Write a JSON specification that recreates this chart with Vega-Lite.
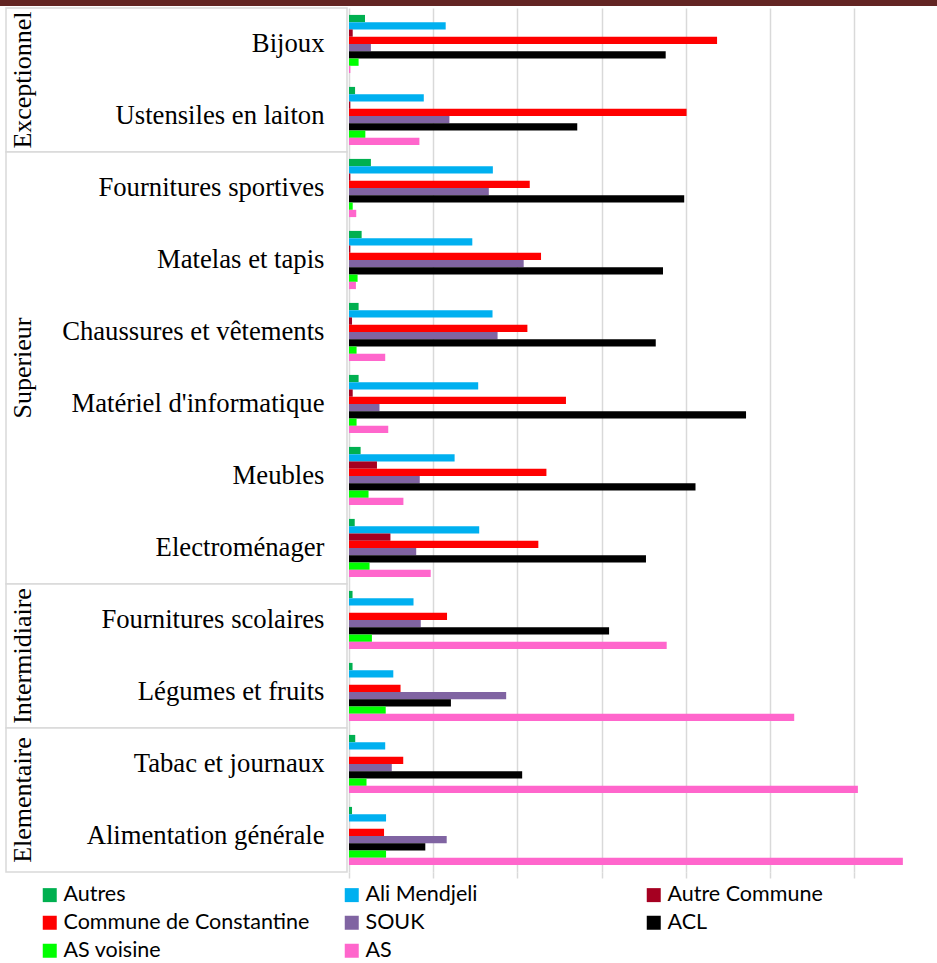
{
  "$schema": "https://vega.github.io/schema/vega-lite/v6.json",
  "padding": {"left": 0, "top": 0, "right": 0, "bottom": 14},
  "background": "white",
  "config": {"view": {"stroke": null}, "font": "Liberation Serif"},
  "datasets": {
    "groups": [
      {"group": "Exceptionnel", "first": "Bijoux", "last": "Ustensiles en laiton", "mid": "Bijoux"},
      {"group": "Superieur", "first": "Fournitures sportives", "last": "Electroménager", "mid": "Chaussures et vêtements"},
      {"group": "Intermidiaire", "first": "Fournitures scolaires", "last": "Légumes et fruits", "mid": "Fournitures scolaires"},
      {"group": "Elementaire", "first": "Tabac et journaux", "last": "Alimentation générale", "mid": "Tabac et journaux"}
    ],
    "bars": [
      {"c": "Bijoux", "s": "Autres", "v": 0.95},
      {"c": "Bijoux", "s": "Ali Mendjeli", "v": 5.74},
      {"c": "Bijoux", "s": "Autre Commune", "v": 0.22},
      {"c": "Bijoux", "s": "Commune de Constantine", "v": 21.85},
      {"c": "Bijoux", "s": "SOUK", "v": 1.3},
      {"c": "Bijoux", "s": "ACL", "v": 18.8},
      {"c": "Bijoux", "s": "AS voisine", "v": 0.57},
      {"c": "Bijoux", "s": "AS", "v": 0.08},
      {"c": "Ustensiles en laiton", "s": "Autres", "v": 0.36},
      {"c": "Ustensiles en laiton", "s": "Ali Mendjeli", "v": 4.44},
      {"c": "Ustensiles en laiton", "s": "Autre Commune", "v": 0.08},
      {"c": "Ustensiles en laiton", "s": "Commune de Constantine", "v": 20.04},
      {"c": "Ustensiles en laiton", "s": "SOUK", "v": 5.96},
      {"c": "Ustensiles en laiton", "s": "ACL", "v": 13.55},
      {"c": "Ustensiles en laiton", "s": "AS voisine", "v": 0.97},
      {"c": "Ustensiles en laiton", "s": "AS", "v": 4.18},
      {"c": "Fournitures sportives", "s": "Autres", "v": 1.3},
      {"c": "Fournitures sportives", "s": "Ali Mendjeli", "v": 8.54},
      {"c": "Fournitures sportives", "s": "Autre Commune", "v": 0.08},
      {"c": "Fournitures sportives", "s": "Commune de Constantine", "v": 10.73},
      {"c": "Fournitures sportives", "s": "SOUK", "v": 8.3},
      {"c": "Fournitures sportives", "s": "ACL", "v": 19.9},
      {"c": "Fournitures sportives", "s": "AS voisine", "v": 0.22},
      {"c": "Fournitures sportives", "s": "AS", "v": 0.43},
      {"c": "Matelas et tapis", "s": "Autres", "v": 0.75},
      {"c": "Matelas et tapis", "s": "Ali Mendjeli", "v": 7.32},
      {"c": "Matelas et tapis", "s": "Autre Commune", "v": 0.08},
      {"c": "Matelas et tapis", "s": "Commune de Constantine", "v": 11.4},
      {"c": "Matelas et tapis", "s": "SOUK", "v": 10.37},
      {"c": "Matelas et tapis", "s": "ACL", "v": 18.64},
      {"c": "Matelas et tapis", "s": "AS voisine", "v": 0.51},
      {"c": "Matelas et tapis", "s": "AS", "v": 0.41},
      {"c": "Chaussures et vêtements", "s": "Autres", "v": 0.57},
      {"c": "Chaussures et vêtements", "s": "Ali Mendjeli", "v": 8.52},
      {"c": "Chaussures et vêtements", "s": "Autre Commune", "v": 0.18},
      {"c": "Chaussures et vêtements", "s": "Commune de Constantine", "v": 10.59},
      {"c": "Chaussures et vêtements", "s": "SOUK", "v": 8.82},
      {"c": "Chaussures et vêtements", "s": "ACL", "v": 18.21},
      {"c": "Chaussures et vêtements", "s": "AS voisine", "v": 0.45},
      {"c": "Chaussures et vêtements", "s": "AS", "v": 2.15},
      {"c": "Matériel d'informatique", "s": "Autres", "v": 0.57},
      {"c": "Matériel d'informatique", "s": "Ali Mendjeli", "v": 7.67},
      {"c": "Matériel d'informatique", "s": "Autre Commune", "v": 0.22},
      {"c": "Matériel d'informatique", "s": "Commune de Constantine", "v": 12.88},
      {"c": "Matériel d'informatique", "s": "SOUK", "v": 1.81},
      {"c": "Matériel d'informatique", "s": "ACL", "v": 23.57},
      {"c": "Matériel d'informatique", "s": "AS voisine", "v": 0.45},
      {"c": "Matériel d'informatique", "s": "AS", "v": 2.33},
      {"c": "Meubles", "s": "Autres", "v": 0.69},
      {"c": "Meubles", "s": "Ali Mendjeli", "v": 6.27},
      {"c": "Meubles", "s": "Autre Commune", "v": 1.66},
      {"c": "Meubles", "s": "Commune de Constantine", "v": 11.72},
      {"c": "Meubles", "s": "SOUK", "v": 4.2},
      {"c": "Meubles", "s": "ACL", "v": 20.57},
      {"c": "Meubles", "s": "AS voisine", "v": 1.16},
      {"c": "Meubles", "s": "AS", "v": 3.23},
      {"c": "Electroménager", "s": "Autres", "v": 0.34},
      {"c": "Electroménager", "s": "Ali Mendjeli", "v": 7.73},
      {"c": "Electroménager", "s": "Autre Commune", "v": 2.46},
      {"c": "Electroménager", "s": "Commune de Constantine", "v": 11.24},
      {"c": "Electroménager", "s": "SOUK", "v": 3.99},
      {"c": "Electroménager", "s": "ACL", "v": 17.63},
      {"c": "Electroménager", "s": "AS voisine", "v": 1.22},
      {"c": "Electroménager", "s": "AS", "v": 4.85},
      {"c": "Fournitures scolaires", "s": "Autres", "v": 0.21},
      {"c": "Fournitures scolaires", "s": "Ali Mendjeli", "v": 3.83},
      {"c": "Fournitures scolaires", "s": "Autre Commune", "v": 0},
      {"c": "Fournitures scolaires", "s": "Commune de Constantine", "v": 5.82},
      {"c": "Fournitures scolaires", "s": "SOUK", "v": 4.26},
      {"c": "Fournitures scolaires", "s": "ACL", "v": 15.44},
      {"c": "Fournitures scolaires", "s": "AS voisine", "v": 1.36},
      {"c": "Fournitures scolaires", "s": "AS", "v": 18.86},
      {"c": "Légumes et fruits", "s": "Autres", "v": 0.21},
      {"c": "Légumes et fruits", "s": "Ali Mendjeli", "v": 2.63},
      {"c": "Légumes et fruits", "s": "Autre Commune", "v": 0},
      {"c": "Légumes et fruits", "s": "Commune de Constantine", "v": 3.06},
      {"c": "Légumes et fruits", "s": "SOUK", "v": 9.33},
      {"c": "Légumes et fruits", "s": "ACL", "v": 6.05},
      {"c": "Légumes et fruits", "s": "AS voisine", "v": 2.18},
      {"c": "Légumes et fruits", "s": "AS", "v": 26.43},
      {"c": "Tabac et journaux", "s": "Autres", "v": 0.37},
      {"c": "Tabac et journaux", "s": "Ali Mendjeli", "v": 2.15},
      {"c": "Tabac et journaux", "s": "Autre Commune", "v": 0},
      {"c": "Tabac et journaux", "s": "Commune de Constantine", "v": 3.22},
      {"c": "Tabac et journaux", "s": "SOUK", "v": 2.54},
      {"c": "Tabac et journaux", "s": "ACL", "v": 10.28},
      {"c": "Tabac et journaux", "s": "AS voisine", "v": 1.04},
      {"c": "Tabac et journaux", "s": "AS", "v": 30.21},
      {"c": "Alimentation générale", "s": "Autres", "v": 0.18},
      {"c": "Alimentation générale", "s": "Ali Mendjeli", "v": 2.2},
      {"c": "Alimentation générale", "s": "Autre Commune", "v": 0},
      {"c": "Alimentation générale", "s": "Commune de Constantine", "v": 2.08},
      {"c": "Alimentation générale", "s": "SOUK", "v": 5.8},
      {"c": "Alimentation générale", "s": "ACL", "v": 4.53},
      {"c": "Alimentation générale", "s": "AS voisine", "v": 2.2},
      {"c": "Alimentation générale", "s": "AS", "v": 32.88}
    ]
  },
  "spacing": 1,
  "center": true,
  "vconcat": [
    {
      "width": 937,
      "height": 6,
      "data": {"values": [{"k": 1}]},
      "mark": {"type": "rect", "color": "#632523"},
      "encoding": {}
    },
    {
      "spacing": 0,
      "hconcat": [
        {
          "width": 341,
          "height": 864,
          "data": {"name": "groups"},
          "layer": [
            {
              "mark": {"type": "rect", "fill": "white", "stroke": "#d9d9d9", "strokeWidth": 1.5},
              "encoding": {
                "y": {
                  "field": "first", "type": "nominal", "bandPosition": 0,
                  "scale": {"domain": ["Bijoux", "Ustensiles en laiton", "Fournitures sportives", "Matelas et tapis", "Chaussures et vêtements", "Matériel d'informatique", "Meubles", "Electroménager", "Fournitures scolaires", "Légumes et fruits", "Tabac et journaux", "Alimentation générale"], "paddingInner": 0, "paddingOuter": 0},
                  "axis": {"orient": "right", "title": null, "domain": false, "ticks": false, "grid": false, "labelAlign": "right", "labelPadding": -23, "labelFont": "Liberation Serif", "labelFontSize": 26.7, "labelColor": "black", "labelLimit": 0}
                },
                "y2": {"field": "last", "bandPosition": 1}
              }
            },
            {
              "mark": {"type": "text", "angle": 270, "font": "Liberation Serif", "fontSize": 26, "align": "center", "baseline": "middle", "dy": -154, "color": "black"},
              "encoding": {
                "y": {
                  "field": "mid", "type": "nominal", "bandPosition": 1,
                  "axis": {"orient": "right", "title": null, "domain": false, "ticks": false, "grid": false, "labelAlign": "right", "labelPadding": -23, "labelFont": "Liberation Serif", "labelFontSize": 26.7, "labelColor": "black", "labelLimit": 0}
                },
                "text": {"field": "group"}
              }
            }
          ]
        },
        {
          "width": 582,
          "height": 864,
          "data": {"name": "bars"},
          "mark": {"type": "bar"},
          "encoding": {
            "y": {
              "field": "c", "type": "nominal",
              "scale": {"domain": ["Bijoux", "Ustensiles en laiton", "Fournitures sportives", "Matelas et tapis", "Chaussures et vêtements", "Matériel d'informatique", "Meubles", "Electroménager", "Fournitures scolaires", "Légumes et fruits", "Tabac et journaux", "Alimentation générale"], "paddingInner": 0, "paddingOuter": 0},
              "axis": null
            },
            "yOffset": {
              "field": "s", "type": "nominal",
              "scale": {"domain": ["Autres", "Ali Mendjeli", "Autre Commune", "Commune de Constantine", "SOUK", "ACL", "AS voisine", "AS"], "paddingInner": 0, "paddingOuter": 0.95}
            },
            "x": {
              "field": "v", "type": "quantitative",
              "scale": {"domain": [0, 34.55], "nice": false},
              "axis": {"values": [0, 5, 10, 15, 20, 25, 30], "title": null, "labels": false, "domain": false, "ticks": true, "tickSize": 6, "tickColor": "#d9d9d9", "tickWidth": 1.5, "grid": true, "gridColor": "#d9d9d9", "gridWidth": 1.5}
            },
            "color": {
              "field": "s", "type": "nominal",
              "scale": {"domain": ["Autres", "Ali Mendjeli", "Autre Commune", "Commune de Constantine", "SOUK", "ACL", "AS voisine", "AS"], "range": ["#00b050", "#00b0f0", "#a50021", "#ff0000", "#8064a2", "#000000", "#00ff00", "#ff66cc"]},
              "legend": {"orient": "none", "legendX": 39, "legendY": 884, "direction": "horizontal", "columns": 3, "title": null, "symbolType": "square", "symbolSize": 196, "symbolStrokeWidth": 0, "labelFont": "Lato", "labelFontSize": 21.5, "labelColor": "black", "labelLimit": 0, "gridAlign": "all", "columnPadding": 31, "rowPadding": 5, "labelOffset": 3}
            }
          }
        }
      ]
    }
  ]
}
